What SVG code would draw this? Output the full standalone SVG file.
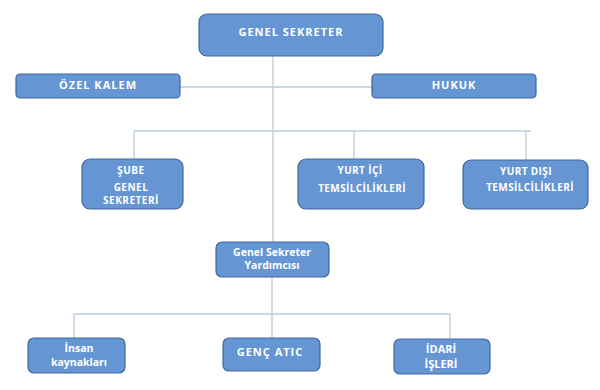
<svg xmlns="http://www.w3.org/2000/svg" width="600" height="390" viewBox="0 0 600 390">
<style>
.box{fill:#6596d3;stroke:#41689c;stroke-width:1.2}
.t{font-family:"Open Sans","Liberation Sans",sans-serif;font-weight:bold;font-size:11px;fill:#ffffff;text-anchor:middle}
.cap{letter-spacing:1px}
.s{font-size:10px;letter-spacing:0.5px}
.m{font-size:10px;letter-spacing:0.4px}
.l{font-size:10.5px}
.c{stroke:#bccbdd;stroke-width:1.3;fill:none}
</style>
<rect width="600" height="390" fill="#ffffff"/>
<g id="connectors">
<line class="c" x1="273" y1="56" x2="273" y2="242"/>
<line class="c" x1="180" y1="87" x2="372" y2="87"/>
<line class="c" x1="134" y1="131" x2="531" y2="131"/>
<line class="c" x1="134" y1="131" x2="134" y2="159"/>
<line class="c" x1="354" y1="131" x2="354" y2="159"/>
<line class="c" x1="526" y1="131" x2="526" y2="160"/>
<line class="c" x1="272" y1="277" x2="272" y2="338"/>
<line class="c" x1="74" y1="314" x2="450" y2="314"/>
<line class="c" x1="74" y1="314" x2="74" y2="338"/>
<line class="c" x1="450" y1="314" x2="450" y2="339"/>
</g>
<g id="genel-sekreter"><rect class="box" x="199" y="14" width="184" height="42" rx="8"/><text class="t cap" x="291" y="36">GENEL SEKRETER</text></g>
<g id="ozel-kalem"><rect class="box" x="16" y="74" width="164" height="24" rx="4"/><text class="t cap" x="98" y="89">ÖZEL KALEM</text></g>
<g id="hukuk"><rect class="box" x="372" y="74" width="164" height="24" rx="4"/><text class="t cap" x="454" y="89">HUKUK</text></g>
<g id="sube"><rect class="box" x="82" y="159" width="101" height="50" rx="8"/><text class="t s" x="131" y="174">ŞUBE</text><text class="t s" x="131" y="191">GENEL</text><text class="t s" x="131" y="204">SEKRETERİ</text></g>
<g id="yurt-ici"><rect class="box" x="298" y="159" width="126" height="50" rx="8"/><text class="t m" x="360" y="174">YURT İÇİ</text><text class="t m" x="362" y="192">TEMSİLCİLİKLERİ</text></g>
<g id="yurt-disi"><rect class="box" x="463" y="160" width="125" height="49" rx="8"/><text class="t m" x="526" y="175">YURT DIŞI</text><text class="t m" x="530" y="191">TEMSİLCİLİKLERİ</text></g>
<g id="gs-yardimcisi"><rect class="box" x="216" y="242" width="113" height="35" rx="6"/><text class="t l" x="272" y="256">Genel Sekreter</text><text class="t l" x="272" y="269">Yardımcısı</text></g>
<g id="insan"><rect class="box" x="28" y="338" width="97" height="35" rx="6"/><text class="t l" x="79" y="352">İnsan</text><text class="t l" x="79" y="366">kaynakları</text></g>
<g id="genc-atic"><rect class="box" x="223" y="338" width="97" height="33" rx="6"/><text class="t cap" x="270" y="356">GENÇ ATIC</text></g>
<g id="idari"><rect class="box" x="394" y="339" width="96" height="35" rx="6"/><text class="t" x="441" y="353">İDARİ</text><text class="t" x="441" y="368">İŞLERİ</text></g>
</svg>
